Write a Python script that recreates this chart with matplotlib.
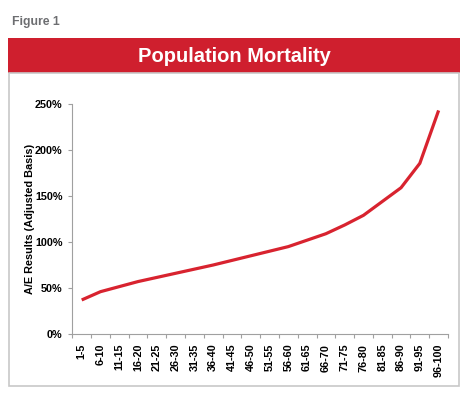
import matplotlib
matplotlib.use("Agg")
import matplotlib.pyplot as plt
from matplotlib.patches import Rectangle
from matplotlib.ticker import FixedLocator, FuncFormatter

plt.rcParams['font.family'] = ['Liberation Sans', 'DejaVu Sans']

categories = ["1-5", "6-10", "11-15", "16-20", "21-25", "26-30", "31-35", "36-40",
              "41-45", "46-50", "51-55", "56-60", "61-65", "66-70", "71-75", "76-80",
              "81-85", "86-90", "91-95", "96-100"]
ae_results = [37, 46, 51.5, 57, 61.5, 66, 70.5, 75, 80, 85, 90, 95, 102, 109,
              118.5, 129, 144, 159, 185.5, 243]
y_ticks = [0, 50, 100, 150, 200, 250]

W, H = 471, 401
fig = plt.figure(figsize=(W / 100, H / 100), dpi=100)

def fx(px):
    return px / W

def fy(py):
    return 1 - py / H

# Figure label
fig.text(fx(12), fy(22), "Figure 1", fontsize=8.8, fontweight='bold', color='#6d6e71',
         ha='left', va='center')
# Red banner
fig.patches.append(Rectangle((fx(8), fy(73)), fx(460) - fx(8), fy(38) - fy(73),
                             transform=fig.transFigure, facecolor='#cf1f2e',
                             edgecolor='none', zorder=0))
fig.text(fx(234), fy(56), "Population Mortality", fontsize=14.5, fontweight='bold',
         color='white', ha='center', va='center')
# Gray box
fig.patches.append(Rectangle((fx(8.5), fy(386)), fx(458.5) - fx(8.5), fy(73) - fy(386),
                             transform=fig.transFigure, facecolor='none',
                             edgecolor='#c8c8c8', linewidth=1.2, zorder=0))

ax_left, ax_right = 72.3, 448
ax = fig.add_axes([fx(ax_left), fy(334), fx(ax_right) - fx(ax_left), fy(104) - fy(334)])
x = list(range(len(categories)))
ax.plot(x, ae_results, color='#d8232f', linewidth=2.3, solid_capstyle='butt',
        solid_joinstyle='round')
ax.set_xlim(-0.5, len(categories) - 0.5)
ax.set_ylim(0, 250)
ax.set_yticks(y_ticks)
ax.yaxis.set_major_formatter(FuncFormatter(lambda v, p: f"{int(v)}%"))
ax.set_xticks(x)
ax.set_xticklabels(categories, rotation=90, fontsize=7.8, fontweight='bold')
ax.xaxis.set_minor_locator(FixedLocator([i - 0.5 for i in range(len(categories) + 1)]))
ax.tick_params(axis='x', which='major', length=0, pad=7)
ax.tick_params(axis='x', which='minor', length=3, color='#a0a0a0', width=0.8)
ax.tick_params(axis='y', length=3, color='#a0a0a0', width=0.8, labelsize=7.8, pad=4)
for lab in ax.get_yticklabels():
    lab.set_fontweight('bold')
for s in ['top', 'right']:
    ax.spines[s].set_visible(False)
for s in ['left', 'bottom']:
    ax.spines[s].set_color('#a0a0a0')
    ax.spines[s].set_linewidth(0.8)
ax.set_ylabel("A/E Results (Adjusted Basis)", fontsize=7.8, fontweight='bold')
ax.yaxis.set_label_coords((35 - ax_left) / (ax_right - ax_left), 0.5)

fig.savefig("out.png", dpi=100)
